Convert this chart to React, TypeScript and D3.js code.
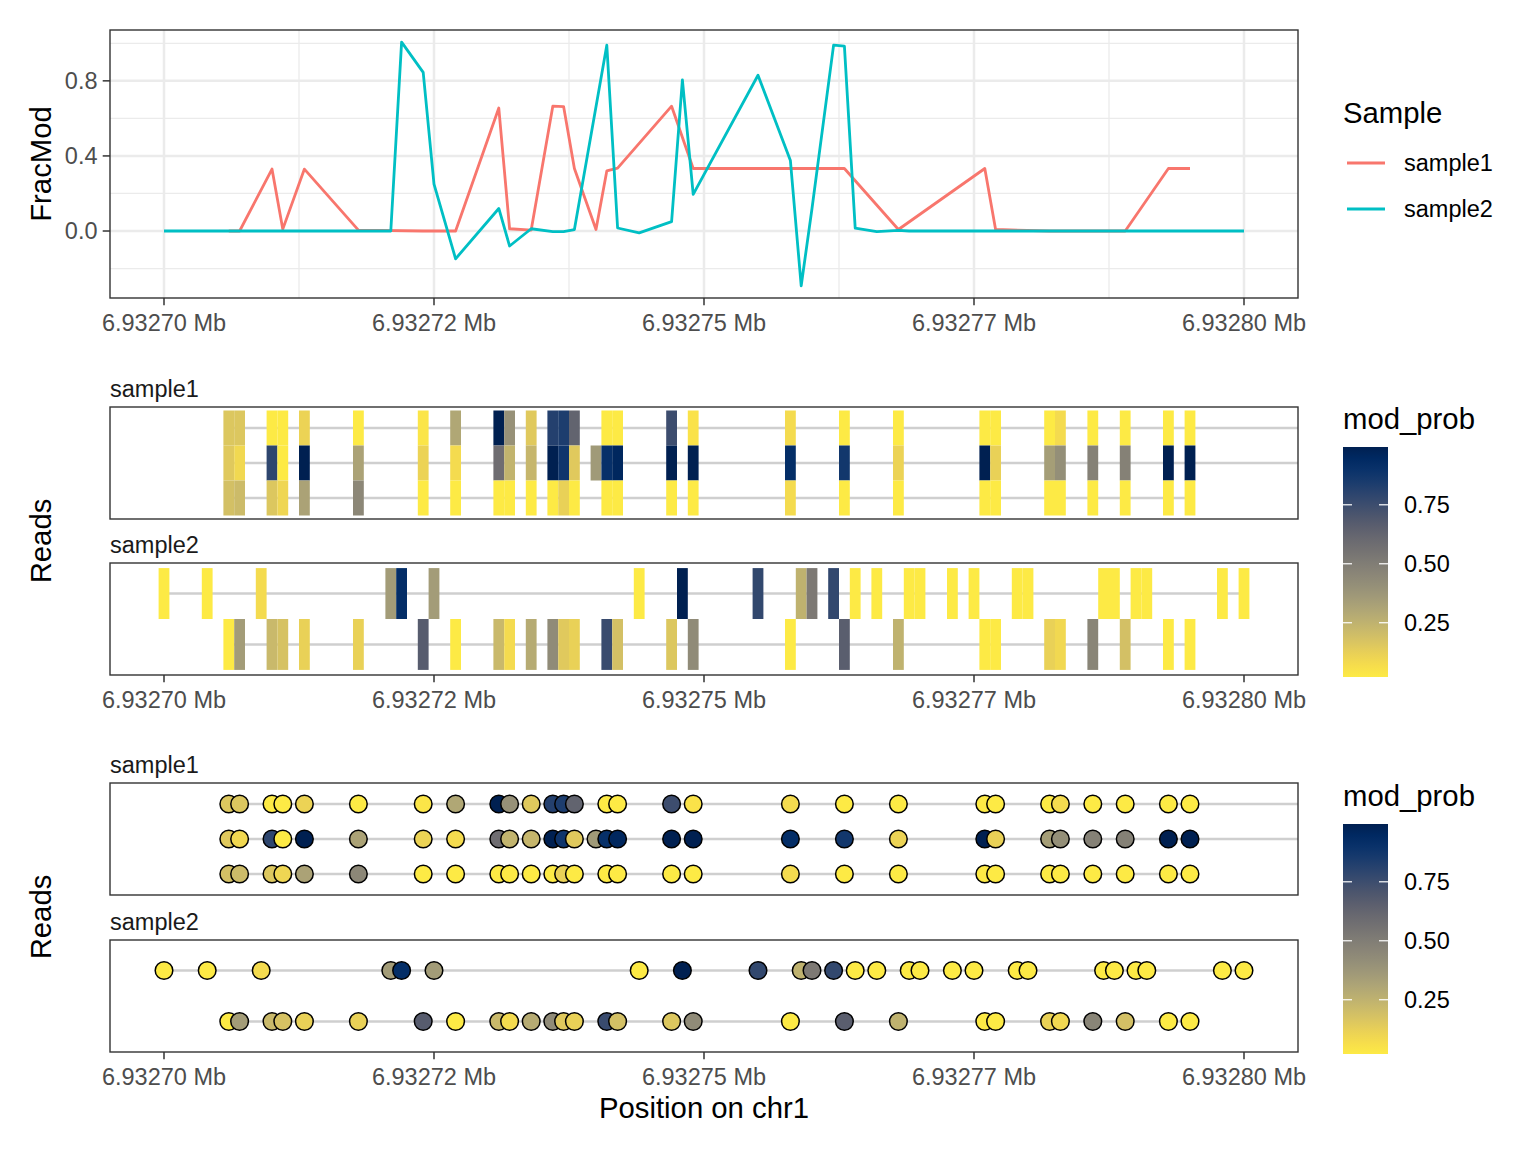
import React from "react";
import * as d3 from "d3";

// ---------------- data ----------------
const BASE = 6932700;
const X_TICKS = [6932700, 6932725, 6932750, 6932775, 6932800];
const X_TICK_LABELS = ["6.93270 Mb", "6.93272 Mb", "6.93275 Mb", "6.93277 Mb", "6.93280 Mb"];
const X_MINOR = [6932712.5, 6932737.5, 6932762.5, 6932787.5];
const Y_TICKS = [0, 0.4, 0.8];
const Y_TICK_LABELS = ["0.0", "0.4", "0.8"];
const Y_MINOR = [-0.2, 0.2, 0.6, 1.0];
const SAMPLES = ["sample1", "sample2"];
const SAMPLE_COLORS = ["#F8766D", "#00BFC4"];
const COLORBAR_TICKS = [0.25, 0.5, 0.75];
const COLORBAR_LABELS = ["0.25", "0.50", "0.75"];

// FracMod per position (offset from BASE)
const FRAC1_POS = [6, 7, 10, 11, 13, 18, 24, 27, 31, 32, 34, 36, 37, 38, 40, 41, 42, 47, 49, 58, 63, 68, 76, 77, 82, 83, 86, 89, 93, 95];
const FRAC1_VAL = [0, 0, 0.33, 0.01, 0.33, 0.005, 0, 0, 0.655, 0.012, 0.005, 0.665, 0.663, 0.333, 0.008, 0.32, 0.335, 0.665, 0.333, 0.333, 0.333, 0.008, 0.333, 0.008, 0, 0, 0, 0, 0.333, 0.333];
const FRAC2_POS = [0, 4, 6, 7, 9, 10, 11, 13, 18, 21, 22, 24, 25, 27, 31, 32, 34, 36, 37, 38, 41, 42, 44, 47, 48, 49, 55, 58, 59, 60, 62, 63, 64, 66, 68, 69, 70, 73, 75, 76, 77, 79, 80, 82, 83, 86, 87, 88, 89, 90, 91, 93, 95, 98, 100];
const FRAC2_VAL = [0, 0, 0, 0, 0, 0, 0, 0, 0, 0, 1.006, 0.845, 0.25, -0.148, 0.12, -0.08, 0.012, -0.003, -0.003, 0.008, 0.99, 0.016, -0.01, 0.05, 0.805, 0.195, 0.83, 0.375, -0.292, 0.12, 0.99, 0.985, 0.015, -0.003, 0.003, 0, 0, 0, 0, 0, 0, 0, 0, 0, 0, 0, 0, 0, 0, 0, 0, 0, 0, 0, 0];

// reads: call positions (offset from BASE) and mod_prob
const S1_R1_POS = [6, 7, 10, 11, 13, 18, 24, 27, 31, 32, 34, 36, 37, 38, 41, 42, 47, 49, 58, 63, 68, 76, 77, 82, 83, 86, 89, 93, 95];
const S1_R1_PROB = [0.16, 0.16, 0.02, 0.02, 0.11, 0.02, 0.04, 0.30, 0.995, 0.40, 0.15, 0.82, 0.84, 0.63, 0.02, 0.02, 0.75, 0.05, 0.08, 0.02, 0.02, 0.02, 0.02, 0.02, 0.08, 0.02, 0.02, 0.02, 0.02];
const S1_R2_POS = [6, 7, 10, 11, 13, 18, 24, 27, 31, 32, 34, 36, 37, 38, 40, 41, 42, 47, 49, 58, 63, 68, 76, 77, 82, 83, 86, 89, 93, 95];
const S1_R2_PROB = [0.15, 0.09, 0.79, 0.02, 0.995, 0.32, 0.11, 0.08, 0.58, 0.24, 0.23, 0.995, 0.88, 0.15, 0.36, 0.91, 0.96, 0.995, 0.995, 0.92, 0.87, 0.11, 0.995, 0.12, 0.34, 0.41, 0.48, 0.48, 0.995, 0.995];
const S1_R3_POS = [6, 7, 10, 11, 13, 18, 24, 27, 31, 32, 34, 36, 37, 38, 41, 42, 47, 49, 58, 63, 68, 76, 77, 82, 83, 86, 89, 93, 95];
const S1_R3_PROB = [0.19, 0.21, 0.16, 0.10, 0.32, 0.45, 0.02, 0.02, 0.02, 0.02, 0.02, 0.02, 0.12, 0.02, 0.02, 0.02, 0.02, 0.02, 0.08, 0.02, 0.02, 0.02, 0.02, 0.02, 0.02, 0.02, 0.02, 0.02, 0.02];
const S2_R1_POS = [0, 4, 9, 21, 22, 25, 44, 48, 55, 59, 60, 62, 64, 66, 69, 70, 73, 75, 79, 80, 87, 88, 90, 91, 98, 100];
const S2_R1_PROB = [0.02, 0.02, 0.08, 0.35, 0.92, 0.35, 0.02, 0.995, 0.78, 0.25, 0.52, 0.78, 0.02, 0.02, 0.02, 0.02, 0.02, 0.02, 0.02, 0.02, 0.02, 0.02, 0.02, 0.02, 0.02, 0.02];
const S2_R2_POS = [6, 7, 10, 11, 13, 18, 24, 27, 31, 32, 34, 36, 37, 38, 41, 42, 47, 49, 58, 63, 68, 76, 77, 82, 83, 86, 89, 93, 95];
const S2_R2_PROB = [0.02, 0.35, 0.22, 0.18, 0.12, 0.12, 0.67, 0.02, 0.22, 0.08, 0.28, 0.43, 0.15, 0.12, 0.76, 0.19, 0.16, 0.43, 0.02, 0.66, 0.25, 0.02, 0.02, 0.12, 0.09, 0.46, 0.19, 0.02, 0.02];
// read extents (offsets from BASE)
const S1_READ_START = [6, 6, 6];
const S1_READ_END = [112, 112, 95];
const S2_READ_START = [0, 6];
const S2_READ_END = [100, 95];

// ---------------- layout ----------------
const W = 1536, H = 1152;
const PL = 110, PR = 1298;
const FONT = "'Liberation Sans', Arial, Helvetica, sans-serif";
const FS_TICK = 23.5, FS_TITLE = 29.3;
const TICK_COL = "#4D4D4D";

type Read = { pos: number[]; prob: number[]; start: number; end: number };
const buildReads = (P: number[][], Q: number[][], S: number[], E: number[]): Read[] =>
  P.map((p, i) => ({ pos: p, prob: Q[i], start: S[i], end: E[i] }));

const S1_READS = buildReads([S1_R1_POS, S1_R2_POS, S1_R3_POS], [S1_R1_PROB, S1_R2_PROB, S1_R3_PROB], S1_READ_START, S1_READ_END);
const S2_READS = buildReads([S2_R1_POS, S2_R2_POS], [S2_R1_PROB, S2_R2_PROB], S2_READ_START, S2_READ_END);

const allProbs = [...S1_R1_PROB, ...S1_R2_PROB, ...S1_R3_PROB, ...S2_R1_PROB, ...S2_R2_PROB];
const probExt = d3.extent(allProbs) as [number, number];
const fillColor = (v: number) => d3.interpolateCividis(1 - (v - probExt[0]) / (probExt[1] - probExt[0]));

const x = d3.scaleLinear().domain([BASE - 5, BASE + 105]).range([PL, PR]);

function XAxis({ y }: { y: number }) {
  return (
    <g>
      {X_TICKS.map((t, i) => (
        <g key={t}>
          <line x1={x(t)} x2={x(t)} y1={y} y2={y + 7.3} stroke="#333333" strokeWidth={1.5} />
          <text x={x(t)} y={y + 33} textAnchor="middle" fontSize={FS_TICK} fill={TICK_COL} fontFamily={FONT}>
            {X_TICK_LABELS[i]}
          </text>
        </g>
      ))}
    </g>
  );
}

function ReadPanel({ top, reads, mode, clipId }: { top: number; reads: Read[]; mode: "tile" | "dot"; clipId: string }) {
  const bottom = top + 112;
  const n = reads.length;
  const y = d3.scaleLinear().domain([0.4, n + 0.6]).range([top, bottom]);
  return (
    <g>
      <defs>
        <clipPath id={clipId}>
          <rect x={PL} y={top} width={PR - PL} height={bottom - top} />
        </clipPath>
      </defs>
      <rect x={PL} y={top} width={PR - PL} height={bottom - top} fill="white" />
      <g clipPath={`url(#${clipId})`}>
        {reads.map((r, i) => (
          <line key={"l" + i} x1={x(BASE + r.start)} x2={x(BASE + r.end)} y1={y(i + 1)} y2={y(i + 1)} stroke="#CFCFCF" strokeWidth={2.6} />
        ))}
        {reads.map((r, i) =>
          r.pos.map((p, j) =>
            mode === "tile" ? (
              <rect
                key={`t${i}-${j}`}
                x={x(BASE + p - 0.5)}
                width={x(BASE + p + 0.5) - x(BASE + p - 0.5)}
                y={y(i + 0.5)}
                height={y(i + 1.5) - y(i + 0.5)}
                fill={fillColor(r.prob[j])}
              />
            ) : (
              <circle key={`c${i}-${j}`} cx={x(BASE + p)} cy={y(i + 1)} r={8.8} fill={fillColor(r.prob[j])} stroke="#000" strokeWidth={1.5} />
            )
          )
        )}
      </g>
      <rect x={PL} y={top} width={PR - PL} height={bottom - top} fill="none" stroke="#333333" strokeWidth={1.4} />
    </g>
  );
}

function ColorBar({ top, title, gid }: { top: number; title: string; gid: string }) {
  const x0 = 1343, w = 45, h = 230;
  const barTop = top + 27;
  const yc = d3.scaleLinear().domain(probExt).range([barTop + h, barTop]);
  const stops = d3.range(0, 1.0001, 0.05);
  return (
    <g>
      <defs>
        <linearGradient id={gid} x1="0" y1="1" x2="0" y2="0">
          {stops.map((s) => (
            <stop key={s} offset={s} stopColor={d3.interpolateCividis(1 - s)} />
          ))}
        </linearGradient>
      </defs>
      <text x={x0} y={top + 9} fontSize={FS_TITLE} fontFamily={FONT} fill="#000">{title}</text>
      <rect x={x0} y={barTop} width={w} height={h} fill={`url(#${gid})`} />
      {COLORBAR_TICKS.map((t, i) => (
        <g key={t}>
          <line x1={x0} x2={x0 + 9} y1={yc(t)} y2={yc(t)} stroke="white" strokeWidth={1.2} />
          <line x1={x0 + w - 9} x2={x0 + w} y1={yc(t)} y2={yc(t)} stroke="white" strokeWidth={1.2} />
          <text x={1404} y={yc(t) + 8.4} fontSize={FS_TICK} fontFamily={FONT} fill="#000">{COLORBAR_LABELS[i]}</text>
        </g>
      ))}
    </g>
  );
}

export default function App() {
  // panel 1
  const T1 = 30, B1 = 298;
  const allFrac = [...FRAC1_VAL, ...FRAC2_VAL];
  const [fmin, fmax] = d3.extent(allFrac) as [number, number];
  const pad = (fmax - fmin) * 0.05;
  const y1 = d3.scaleLinear().domain([fmin - pad, fmax + pad]).range([B1, T1]);
  const lineGen = d3
    .line<[number, number]>()
    .x((d) => x(BASE + d[0]))
    .y((d) => y1(d[1]));
  const series = [
    FRAC1_POS.map((p, i) => [p, FRAC1_VAL[i]] as [number, number]),
    FRAC2_POS.map((p, i) => [p, FRAC2_VAL[i]] as [number, number]),
  ];

  return (
    <svg
      width={W}
      height={H}
      viewBox={`0 0 ${W} ${H}`}
      style={{ display: "block", background: "white", position: "absolute", left: 0, top: 0 }}
      fontFamily={FONT}
    >
      <rect width={W} height={H} fill="white" />
      {/* ---------- Panel 1: FracMod ---------- */}
      <rect x={PL} y={T1} width={PR - PL} height={B1 - T1} fill="white" />
      {Y_MINOR.map((t) => (
        <line key={"ym" + t} x1={PL} x2={PR} y1={y1(t)} y2={y1(t)} stroke="#EBEBEB" strokeWidth={1.3} />
      ))}
      {X_MINOR.map((t) => (
        <line key={"xm" + t} x1={x(t)} x2={x(t)} y1={T1} y2={B1} stroke="#EBEBEB" strokeWidth={1.3} />
      ))}
      {Y_TICKS.map((t) => (
        <line key={"yM" + t} x1={PL} x2={PR} y1={y1(t)} y2={y1(t)} stroke="#EBEBEB" strokeWidth={2.5} />
      ))}
      {X_TICKS.map((t) => (
        <line key={"xM" + t} x1={x(t)} x2={x(t)} y1={T1} y2={B1} stroke="#EBEBEB" strokeWidth={2.5} />
      ))}
      {series.map((s, i) => (
        <path key={"s" + i} d={lineGen(s) || ""} fill="none" stroke={SAMPLE_COLORS[i]} strokeWidth={2.8} strokeLinejoin="round" />
      ))}
      <rect x={PL} y={T1} width={PR - PL} height={B1 - T1} fill="none" stroke="#333333" strokeWidth={1.4} />
      {Y_TICKS.map((t, i) => (
        <g key={"yt" + t}>
          <line x1={PL - 7.3} x2={PL} y1={y1(t)} y2={y1(t)} stroke="#333333" strokeWidth={1.5} />
          <text x={PL - 12.5} y={y1(t) + 8.4} textAnchor="end" fontSize={FS_TICK} fill={TICK_COL} fontFamily={FONT}>
            {Y_TICK_LABELS[i]}
          </text>
        </g>
      ))}
      <XAxis y={B1} />
      <text transform={`translate(51,${(T1 + B1) / 2}) rotate(-90)`} textAnchor="middle" fontSize={FS_TITLE} fontFamily={FONT}>FracMod</text>
      {/* legend Sample */}
      <text x={1343} y={123} fontSize={FS_TITLE} fontFamily={FONT}>Sample</text>
      {SAMPLES.map((s, i) => (
        <g key={s}>
          <line x1={1347} x2={1385} y1={163 + i * 46} y2={163 + i * 46} stroke={SAMPLE_COLORS[i]} strokeWidth={2.8} />
          <text x={1404} y={163 + i * 46 + 8.4} fontSize={FS_TICK} fontFamily={FONT}>{s}</text>
        </g>
      ))}

      {/* ---------- Panel 2: tiles ---------- */}
      <text x={PL} y={397} fontSize={FS_TICK} fill="#1A1A1A" fontFamily={FONT}>{SAMPLES[0]}</text>
      <ReadPanel top={407} reads={S1_READS} mode="tile" clipId="c1" />
      <text x={PL} y={553} fontSize={FS_TICK} fill="#1A1A1A" fontFamily={FONT}>{SAMPLES[1]}</text>
      <ReadPanel top={563} reads={S2_READS} mode="tile" clipId="c2" />
      <XAxis y={675} />
      <text transform={`translate(51,541) rotate(-90)`} textAnchor="middle" fontSize={FS_TITLE} fontFamily={FONT}>Reads</text>
      <ColorBar top={420} title="mod_prob" gid="g1" />

      {/* ---------- Panel 3: dots ---------- */}
      <text x={PL} y={773} fontSize={FS_TICK} fill="#1A1A1A" fontFamily={FONT}>{SAMPLES[0]}</text>
      <ReadPanel top={783} reads={S1_READS} mode="dot" clipId="c3" />
      <text x={PL} y={930} fontSize={FS_TICK} fill="#1A1A1A" fontFamily={FONT}>{SAMPLES[1]}</text>
      <ReadPanel top={940} reads={S2_READS} mode="dot" clipId="c4" />
      <XAxis y={1052} />
      <text transform={`translate(51,917) rotate(-90)`} textAnchor="middle" fontSize={FS_TITLE} fontFamily={FONT}>Reads</text>
      <ColorBar top={797} title="mod_prob" gid="g2" />
      <text x={(PL + PR) / 2} y={1118} textAnchor="middle" fontSize={FS_TITLE} fontFamily={FONT}>Position on chr1</text>
    </svg>
  );
}
